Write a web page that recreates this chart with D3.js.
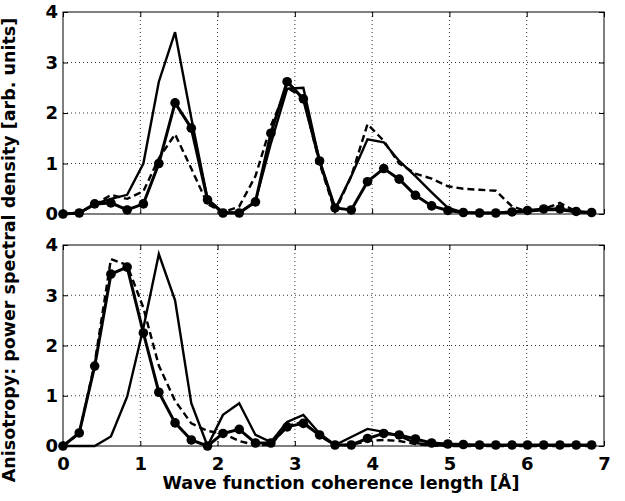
<!DOCTYPE html>
<html>
<head>
<meta charset="utf-8">
<script src="https://cdn.jsdelivr.net/npm/d3@7"></script>
<style>
  body { margin: 0; background: #fff; }
  svg { display: block; }
  text { font-family: "DejaVu Sans", sans-serif; font-weight: bold; }
</style>
</head>
<body>
<svg id="chart" width="625" height="501"></svg>
<script>
// coherence length sampling [Å]
const lengths = [0, 0.21, 0.41, 0.62, 0.83, 1.04, 1.24, 1.45, 1.66, 1.87, 2.07, 2.28, 2.49, 2.69, 2.90, 3.11, 3.32,
                 3.52, 3.73, 3.94, 4.15, 4.35, 4.56, 4.77, 4.98, 5.18, 5.39, 5.60, 5.81, 6.01, 6.22, 6.43, 6.64, 6.84];

// upper panel
const topSolid  = [0, 0.02, 0.2, 0.3, 0.38, 1.0, 2.62, 3.6, 1.9, 0.3, 0.03, 0.03, 0.25, 1.4, 2.48, 2.5, 1.05,
                   0.1, 0.75, 1.48, 1.42, 1.05, 0.75, 0.43, 0.12, 0.03, 0.02, 0.02, 0.03, 0.05, 0.08, 0.08, 0.04, 0.02];
const topDashed = [0, 0.03, 0.18, 0.38, 0.3, 0.45, 1.1, 1.58, 0.9, 0.2, 0.03, 0.15, 0.75, 1.75, 2.5, 2.3, 1.0,
                   0.05, 0.75, 1.78, 1.45, 1.0, 0.8, 0.7, 0.55, 0.5, 0.48, 0.46, 0.15, 0.05, 0.1, 0.22, 0.05, 0.02];
const topDots   = [0, 0.02, 0.2, 0.22, 0.08, 0.2, 1.0, 2.2, 1.7, 0.28, 0.02, 0.02, 0.24, 1.6, 2.62, 2.28, 1.05,
                   0.12, 0.08, 0.64, 0.9, 0.69, 0.37, 0.16, 0.07, 0.03, 0.02, 0.02, 0.04, 0.07, 0.1, 0.1, 0.05, 0.03];

// lower panel
const botSolid  = [0, 0, 0, 0.19, 0.98, 2.35, 3.82, 2.9, 0.85, 0.0, 0.62, 0.85, 0.22, 0.08, 0.48, 0.62, 0.25,
                   0.02, 0.18, 0.34, 0.28, 0.2, 0.06, 0.02, 0.01, 0.01, 0.01, 0.01, 0.01, 0.01, 0.01, 0.01, 0.01, 0.01];
const botDashed = [0, 0.25, 1.65, 3.72, 3.6, 2.75, 1.6, 0.9, 0.45, 0.3, 0.25, 0.1, 0.02, 0.02, 0.4, 0.48, 0.2,
                   0.02, 0.02, 0.1, 0.12, 0.1, 0.04, 0.01, 0, 0, 0, 0, 0, 0, 0, 0, 0, 0];
const botDots   = [0, 0.26, 1.59, 3.42, 3.56, 2.25, 1.07, 0.46, 0.12, 0.0, 0.25, 0.33, 0.06, 0.06, 0.38, 0.45, 0.22,
                   0.02, 0.02, 0.15, 0.25, 0.22, 0.14, 0.06, 0.04, 0.03, 0.02, 0.02, 0.02, 0.02, 0.02, 0.02, 0.02, 0.02];

const xTicks = [0, 1, 2, 3, 4, 5, 6, 7];
const yTicks = [0, 1, 2, 3, 4];

const svg = d3.select('#chart');
const [left, right] = [63, 604];

const x = d3.scaleLinear().domain([0, 7]).range([left, right]);

const panels = [
  { top: 12,  bottom: 214, solid: topSolid, dashed: topDashed, dots: topDots, labels: false },
  { top: 245, bottom: 446, solid: botSolid, dashed: botDashed, dots: botDots, labels: true }
];

panels.forEach(p => {
  const y = d3.scaleLinear().domain([0, 4]).range([p.bottom, p.top]);
  const g = svg.append('g');

  // dotted grid
  g.selectAll('.vgrid')
    .data(xTicks.slice(1, -1))
    .enter().append('line')
      .attr('x1', d => x(d)).attr('x2', d => x(d))
      .attr('y1', p.top).attr('y2', p.bottom)
      .attr('stroke', '#333').attr('stroke-width', 1)
      .attr('stroke-dasharray', '1,3');

  g.selectAll('.hgrid')
    .data(yTicks.slice(1, -1))
    .enter().append('line')
      .attr('x1', left).attr('x2', right)
      .attr('y1', d => y(d)).attr('y2', d => y(d))
      .attr('stroke', '#333').attr('stroke-width', 1)
      .attr('stroke-dasharray', '1,3');

  // axes, ticks pointing inward
  const bottomAxis = d3.axisBottom(x).tickValues(xTicks).tickSize(-5).tickSizeOuter(0).tickPadding(11)
    .tickFormat(d3.format('d'));
  if (!p.labels) bottomAxis.tickFormat('');
  g.append('g').attr('transform', `translate(0,${p.bottom})`).call(bottomAxis);
  g.append('g').attr('transform', `translate(0,${p.top})`)
    .call(d3.axisTop(x).tickValues(xTicks).tickSize(-5).tickSizeOuter(0).tickFormat(''));
  g.append('g').attr('transform', `translate(${left},0)`)
    .call(d3.axisLeft(y).tickValues(yTicks).tickSize(-5).tickSizeOuter(0).tickPadding(5).tickFormat(d3.format('d')));
  g.append('g').attr('transform', `translate(${right},0)`)
    .call(d3.axisRight(y).tickValues(yTicks).tickSize(-5).tickSizeOuter(0).tickFormat(''));

  g.selectAll('.tick text')
    .attr('fill', '#000')
    .style('font-size', '18px')
    .style('font-family', '"DejaVu Sans", sans-serif')
    .style('font-weight', 'bold');
  g.selectAll('.domain').remove();
  g.selectAll('.tick line').attr('stroke', '#000');

  g.append('rect')
    .attr('x', left).attr('y', p.top)
    .attr('width', right - left).attr('height', p.bottom - p.top)
    .attr('fill', 'none').attr('stroke', '#000').attr('stroke-width', 1);

  const line = vals => d3.line()
    .x((d, i) => x(lengths[i]))
    .y(d => y(d))(vals);

  g.append('path')
    .attr('d', line(p.solid))
    .attr('fill', 'none').attr('stroke', '#000').attr('stroke-width', 2.4);

  g.append('path')
    .attr('d', line(p.dashed))
    .attr('fill', 'none').attr('stroke', '#000').attr('stroke-width', 2.4)
    .attr('stroke-dasharray', '7,4');

  g.append('path')
    .attr('d', line(p.dots))
    .attr('fill', 'none').attr('stroke', '#000').attr('stroke-width', 3);

  g.selectAll('circle')
    .data(p.dots)
    .enter().append('circle')
      .attr('cx', (d, i) => x(lengths[i]))
      .attr('cy', d => y(d))
      .attr('r', 4.8)
      .attr('fill', '#000');
});

svg.append('text')
  .attr('x', 341).attr('y', 489)
  .attr('text-anchor', 'middle')
  .style('font-size', '17.6px')
  .text('Wave function coherence length [Å]');

svg.append('text')
  .attr('transform', 'translate(15,250) rotate(-90)')
  .attr('text-anchor', 'middle')
  .style('font-size', '17.5px')
  .text('Anisotropy: power spectral density [arb. units]');
</script>
</body>
</html>
